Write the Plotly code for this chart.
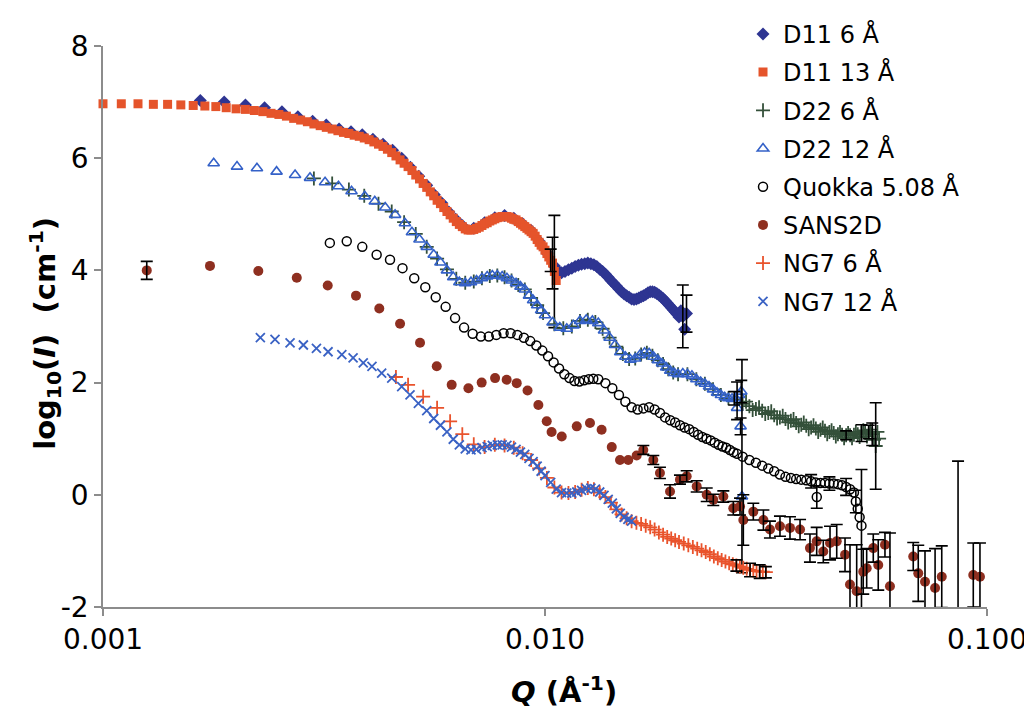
import plotly.graph_objects as go

# ---------------- data (Q in 1/Angstrom, values are log10(I)) ----------------
d11_6_q = [0.00166, 0.00188, 0.00210, 0.00232, 0.00254, 0.00276, 0.00298, 0.00320, 0.00342, 0.00364,
           0.00386, 0.00408, 0.00430, 0.00452, 0.00474, 0.00496, 0.00518, 0.00540, 0.00562, 0.00584,
           0.00606, 0.00628, 0.00650, 0.0069, 0.0073, 0.0077, 0.0081, 0.0085, 0.0089, 0.0093,
           0.0097, 0.0101, 0.0105, 0.0107, 0.0109, 0.0111, 0.0113, 0.0115, 0.0117, 0.0119,
           0.0121, 0.0123, 0.0125, 0.0127, 0.0129, 0.0131, 0.0133, 0.0135, 0.0137, 0.0139,
           0.0141, 0.0143, 0.0145, 0.0147, 0.0149, 0.0151, 0.0153, 0.0155, 0.0157, 0.0159,
           0.0161, 0.0163, 0.0165, 0.0167, 0.0169, 0.0171, 0.0173, 0.0175, 0.0177, 0.0179,
           0.0181, 0.0183, 0.0185, 0.0187, 0.0189, 0.0191, 0.0193, 0.0195, 0.0197, 0.0199,
           0.0201, 0.0203, 0.0205, 0.0207, 0.0209]
d11_6_v = [7.03, 7.00, 6.95, 6.90, 6.83, 6.74, 6.66, 6.59, 6.52, 6.47,
           6.42, 6.34, 6.25, 6.14, 6.00, 5.84, 5.68, 5.52, 5.35, 5.20,
           5.04, 4.91, 4.80, 4.75, 4.85, 4.94, 4.98, 4.93, 4.83, 4.71,
           4.52, 4.31, 4.08, 4.00, 3.96, 3.98, 4.01, 4.04, 4.07, 4.09,
           4.11, 4.12, 4.13, 4.12, 4.10, 4.07, 4.02, 3.98, 3.93, 3.88,
           3.82, 3.77, 3.72, 3.67, 3.62, 3.58, 3.55, 3.52, 3.49, 3.48,
           3.49, 3.51, 3.53, 3.55, 3.57, 3.60, 3.62, 3.62, 3.61, 3.59,
           3.56, 3.53, 3.50, 3.46, 3.42, 3.38, 3.34, 3.30, 3.26, 3.22,
           3.17, 3.28, 3.18, 2.95, 3.23]
d11_6_err_q = [0.0205, 0.0209]
d11_6_err_v = [3.18, 3.23]
d11_6_err_up = [0.56, 0.33]
d11_6_err_dn = [0.56, 0.33]

d11_13_q = [0.0010, 0.0011, 0.0012, 0.0013, 0.0014, 0.0015, 0.0016, 0.0017, 0.0018, 0.0019,
            0.0020, 0.0021, 0.0022, 0.0023, 0.0024, 0.0025, 0.0026, 0.0027, 0.0028, 0.0029,
            0.0030, 0.0031, 0.0032, 0.0033, 0.0034, 0.0035, 0.0036, 0.0037, 0.0038, 0.0039,
            0.0040, 0.0041, 0.0042, 0.0043, 0.0044, 0.0045, 0.0046, 0.0047, 0.0048, 0.0049,
            0.0050, 0.0051, 0.0052, 0.0053, 0.0054, 0.0055, 0.0056, 0.0057, 0.0058, 0.0059,
            0.0060, 0.0061, 0.0062, 0.0063, 0.0064, 0.0065, 0.0066, 0.0067, 0.0068, 0.0069,
            0.0070, 0.0071, 0.0072, 0.0073, 0.0074, 0.0075, 0.0076, 0.0077, 0.0078, 0.0079,
            0.0080, 0.0081, 0.0082, 0.0083, 0.0084, 0.0085, 0.0086, 0.0087, 0.0088, 0.0089,
            0.0090, 0.0091, 0.0092, 0.0093, 0.0094, 0.0095, 0.0096, 0.0097, 0.0098, 0.0099,
            0.0100, 0.0101, 0.0102, 0.0103, 0.0104, 0.0105, 0.0106]
d11_13_v = [6.97, 6.97, 6.97, 6.96, 6.96, 6.95, 6.94, 6.93, 6.92, 6.90,
            6.88, 6.87, 6.85, 6.83, 6.80, 6.78, 6.75, 6.71, 6.68, 6.65,
            6.61, 6.58, 6.55, 6.52, 6.49, 6.46, 6.44, 6.41, 6.39, 6.36,
            6.33, 6.29, 6.25, 6.21, 6.16, 6.10, 6.04, 5.97, 5.91, 5.85,
            5.78, 5.70, 5.63, 5.55, 5.48, 5.40, 5.33, 5.25, 5.19, 5.12,
            5.05, 4.99, 4.93, 4.87, 4.82, 4.78, 4.74, 4.72, 4.72, 4.73,
            4.75, 4.77, 4.80, 4.83, 4.85, 4.88, 4.90, 4.92, 4.94, 4.95,
            4.96, 4.96, 4.96, 4.95, 4.93, 4.91, 4.90, 4.87, 4.84, 4.81,
            4.78, 4.75, 4.72, 4.69, 4.66, 4.61, 4.55, 4.50, 4.45, 4.42,
            4.36, 4.30, 4.24, 4.18, 4.13, 3.98, 3.82]
d11_13_err_q = [0.0103, 0.0104, 0.0105]
d11_13_err_v = [4.18, 4.13, 3.98]
d11_13_err_up = [0.20, 0.46, 1.00]
d11_13_err_dn = [0.20, 0.46, 1.00]

d22_6_q = [0.0030, 0.0033, 0.0036, 0.0039, 0.0042, 0.0045, 0.0048, 0.0051, 0.0054, 0.0057,
           0.0060, 0.0063, 0.0066, 0.0069, 0.0072, 0.0075, 0.0078, 0.0081, 0.0084, 0.0087,
           0.0090, 0.0093, 0.0096, 0.0099, 0.0105, 0.0110, 0.0115, 0.0120, 0.0125, 0.0130,
           0.0135, 0.0140, 0.0145, 0.0150, 0.0155, 0.0160, 0.0165, 0.0170, 0.0175, 0.0180,
           0.0185, 0.0190, 0.0195, 0.0200, 0.0210, 0.0220, 0.0230, 0.0240, 0.0250, 0.0260,
           0.0270, 0.0280, 0.0290, 0.0300, 0.0310, 0.0320, 0.0330, 0.0340, 0.0350, 0.0360,
           0.0370, 0.0380, 0.0390, 0.0400, 0.0410, 0.0420, 0.0430, 0.0440, 0.0450, 0.0460,
           0.0470, 0.0480, 0.0490, 0.0500, 0.0510, 0.0520, 0.0530, 0.0540, 0.0550, 0.0560,
           0.0570,
           0.0285, 0.0295, 0.0305, 0.0315, 0.0325, 0.0335, 0.0345, 0.0355, 0.0365, 0.0375,
           0.0385, 0.0395, 0.0405, 0.0415, 0.0425, 0.0435, 0.0445, 0.0455, 0.0465, 0.0475,
           0.0485, 0.0495, 0.0505, 0.0515, 0.0525, 0.0535, 0.0545, 0.0555, 0.0565]
d22_6_v = [5.64, 5.55, 5.44, 5.33, 5.19, 5.05, 4.86, 4.65, 4.42, 4.21,
           4.02, 3.85, 3.78, 3.80, 3.86, 3.90, 3.91, 3.88, 3.82, 3.74,
           3.66, 3.51, 3.38, 3.24, 3.04, 2.97, 3.00, 3.10, 3.12, 3.08,
           2.96, 2.80, 2.64, 2.51, 2.42, 2.43, 2.50, 2.53, 2.48, 2.40,
           2.33, 2.24, 2.18, 2.15, 2.15, 2.06, 1.98, 1.88, 1.78, 1.72,
           1.70, 1.62, 1.58, 1.53, 1.50, 1.46, 1.42, 1.38, 1.35, 1.32,
           1.28, 1.25, 1.23, 1.20, 1.18, 1.16, 1.14, 1.12, 1.10, 1.08,
           1.07, 1.06, 1.06, 1.07, 1.08, 1.10, 1.10, 1.12, 1.08, 0.87,
           1.00,
           1.66, 1.51, 1.56, 1.44, 1.49, 1.36, 1.41, 1.29, 1.35, 1.22,
           1.29, 1.17, 1.24, 1.12, 1.20, 1.08, 1.15, 1.04, 1.12, 1.01,
           1.10, 1.01, 1.12, 1.03, 1.15, 1.04, 1.16, 0.98, 1.12]
d22_6_err_q = [0.0480, 0.0520, 0.0540, 0.0550, 0.0560]
d22_6_err_v = [1.06, 1.10, 1.12, 1.08, 0.87]
d22_6_err_up = [0.08, 0.15, 0.12, 0.20, 0.77]
d22_6_err_dn = [0.08, 0.15, 0.12, 0.20, 0.77]

d22_12_q = [0.00178, 0.00201, 0.00223, 0.00247, 0.00272, 0.00294, 0.00318, 0.00341, 0.00365, 0.00391,
            0.00412, 0.00435, 0.00458, 0.00482,
            0.0050, 0.0052, 0.0054, 0.0056, 0.0058, 0.0060, 0.0062, 0.0064, 0.0066, 0.0068,
            0.0070, 0.0072, 0.0074, 0.0076, 0.0078, 0.0080, 0.0082, 0.0084, 0.0086, 0.0088,
            0.0090, 0.0092, 0.0094, 0.0096, 0.0098, 0.0100,
            0.0104, 0.0108, 0.0112, 0.0116, 0.0120, 0.0124, 0.0128, 0.0132, 0.0136, 0.0140,
            0.0144, 0.0148, 0.0152, 0.0156, 0.0160, 0.0164, 0.0168, 0.0172, 0.0176, 0.0180,
            0.0184, 0.0188, 0.0192, 0.0196, 0.0200,
            0.0205, 0.0210, 0.0215, 0.0220, 0.0225, 0.0230, 0.0235, 0.0240, 0.0245, 0.0250,
            0.0255, 0.0260, 0.0265, 0.0270, 0.0275,
            0.0272, 0.0278, 0.0277, 0.0279]
d22_12_v = [5.91, 5.85, 5.82, 5.76, 5.70, 5.65, 5.57, 5.50, 5.41, 5.32,
            5.23, 5.12, 4.99, 4.84,
            4.68, 4.55, 4.42, 4.28, 4.14, 4.00, 3.88, 3.79, 3.77, 3.79,
            3.82, 3.86, 3.89, 3.91, 3.91, 3.89, 3.86, 3.82, 3.77, 3.71,
            3.66, 3.55, 3.47, 3.38, 3.29, 3.20,
            3.07, 2.98, 2.96, 3.02, 3.10, 3.12, 3.10, 3.06, 2.93, 2.80,
            2.67, 2.54, 2.46, 2.41, 2.43, 2.49, 2.53, 2.52, 2.46, 2.40,
            2.34, 2.27, 2.21, 2.17, 2.15,
            2.16, 2.15, 2.12, 2.06, 2.01, 1.98, 1.93, 1.88, 1.82, 1.78,
            1.74, 1.72, 1.71, 1.72, 1.78,
            1.55, 1.84, 1.22, -0.03]
d22_12_err_q = [0.0268, 0.0272, 0.0277, 0.0278, 0.0279]
d22_12_err_v = [1.72, 1.55, 1.22, 1.84, -0.03]
d22_12_err_up = [0.12, 0.46, 0.15, 0.20, 2.44]
d22_12_err_dn = [0.12, 0.21, 0.15, 0.20, 1.36]

quokka_q = [0.00326, 0.00356, 0.00386, 0.00416, 0.00446, 0.00476, 0.00506, 0.00536, 0.00566, 0.00596,
            0.00626, 0.00656, 0.00686, 0.00716, 0.00746, 0.00776, 0.00806, 0.00836, 0.00866, 0.00896,
            0.00926, 0.00956, 0.00986, 0.01016, 0.01046, 0.01076, 0.01106, 0.01136, 0.01166, 0.01196,
            0.01226, 0.01256, 0.01286, 0.0132, 0.0137, 0.0142, 0.0147, 0.0152, 0.0157, 0.0162,
            0.0167, 0.0172, 0.0177, 0.0182, 0.0187, 0.0192, 0.0197, 0.0202, 0.0207, 0.0212,
            0.0217, 0.0222, 0.0227, 0.0232, 0.0237, 0.0242, 0.0247, 0.0252, 0.0257, 0.0262,
            0.0267, 0.0272, 0.0280, 0.0290, 0.0300, 0.0310, 0.0320, 0.0330, 0.0340, 0.0350,
            0.0360, 0.0370, 0.0380, 0.0390, 0.0400, 0.0410, 0.0420, 0.0430, 0.0440, 0.0450,
            0.0460, 0.0470, 0.0480, 0.0490, 0.0500, 0.0505, 0.0510, 0.0515, 0.0520, 0.0412]
quokka_v = [4.49, 4.52, 4.42, 4.28, 4.19, 4.04, 3.86, 3.70, 3.52, 3.35,
            3.15, 2.98, 2.87, 2.82, 2.82, 2.85, 2.88, 2.88, 2.85, 2.80,
            2.74, 2.66, 2.57, 2.47, 2.36, 2.25, 2.15, 2.08, 2.03, 2.02,
            2.04, 2.06, 2.07, 2.06, 1.99, 1.90, 1.78, 1.66, 1.56, 1.52,
            1.54, 1.56, 1.52, 1.46, 1.38, 1.33, 1.29, 1.24, 1.20, 1.17,
            1.12, 1.07, 1.03, 1.00, 0.97, 0.93, 0.89, 0.86, 0.84, 0.80,
            0.76, 0.73, 0.68, 0.62, 0.57, 0.52, 0.47, 0.42, 0.36, 0.32,
            0.30, 0.28, 0.27, 0.26, 0.24, 0.22, 0.21, 0.21, 0.20, 0.20,
            0.19, 0.17, 0.14, 0.10, 0.04, -0.12, -0.25, -0.40, -0.55, -0.04]
quokka_err_q = [0.0400, 0.0412, 0.0440, 0.0480, 0.0505, 0.0520]
quokka_err_v = [0.24, -0.04, 0.20, 0.14, -0.12, -0.55]
quokka_err_up = [0.12, 0.20, 0.12, 0.15, 0.20, 1.00]
quokka_err_dn = [0.12, 0.20, 0.12, 0.15, 0.20, 1.50]

sans2d_q = [0.001256, 0.001746, 0.002246, 0.002744, 0.003224, 0.003736, 0.004218, 0.004700, 0.005215, 0.005690,
            0.006150, 0.006710, 0.007190, 0.007710, 0.008190, 0.008630, 0.009130, 0.009660, 0.010090, 0.010350,
            0.010910, 0.011800, 0.012640, 0.013430, 0.014160, 0.014780, 0.015430, 0.016120, 0.016690, 0.017580,
            0.018200, 0.019180, 0.020200, 0.020920, 0.022040, 0.023220, 0.024030, 0.025320, 0.026670, 0.027620,
            0.028100, 0.029600, 0.031200, 0.032280, 0.034010, 0.035830, 0.037760, 0.039760, 0.041180, 0.042620,
            0.044140, 0.045710, 0.047730, 0.048980, 0.050720, 0.052480, 0.053430, 0.055300, 0.056750, 0.058770,
            0.060320, 0.068100, 0.069900, 0.072400, 0.076300, 0.079000, 0.086000, 0.093100, 0.096400]
sans2d_v = [4.00, 4.08, 3.99, 3.87, 3.73, 3.55, 3.32, 3.05, 2.71, 2.29,
            1.96, 1.90, 2.00, 2.08, 2.05, 1.99, 1.86, 1.60, 1.31, 1.12,
            1.04, 1.22, 1.28, 1.16, 0.85, 0.62, 0.62, 0.70, 0.80, 0.62,
            0.39, 0.06, 0.27, 0.33, 0.15, 0.00, -0.09, -0.03, -0.24, -0.21,
            -0.45, -0.30, -0.45, -0.62, -0.56, -0.59, -0.62, -0.95, -0.83, -1.01,
            -0.86, -0.83, -1.07, -1.60, -1.72, -1.37, -1.31, -0.95, -1.25, -0.89,
            -1.63, -1.10, -1.40, -1.55, -1.66, -1.46, -2.30, -1.43, -1.46]
# error bars of SANS2D (points that show one)
sans2d_err_q = [0.001256, 0.016690, 0.017580, 0.018200, 0.019180, 0.020200, 0.020920, 0.022040, 0.023220,
                0.024030, 0.025320, 0.026670, 0.027620, 0.028100, 0.029600, 0.031200, 0.032280, 0.034010,
                0.035830, 0.037760, 0.039760, 0.041180, 0.042620, 0.044140, 0.045710, 0.047730, 0.048980,
                0.050720, 0.052480, 0.053430, 0.055300, 0.056750, 0.058770, 0.060320, 0.068100, 0.069900,
                0.072400, 0.076300, 0.079000, 0.086000, 0.093100, 0.096400]
sans2d_err_v = [4.00, 0.80, 0.62, 0.39, 0.06, 0.27, 0.33, 0.15, 0.00,
                -0.09, -0.03, -0.24, -0.21, -0.45, -0.30, -0.45, -0.62, -0.56,
                -0.59, -0.62, -0.95, -0.83, -1.01, -0.86, -0.83, -1.07, -1.60,
                -1.72, -1.37, -1.31, -0.95, -1.25, -0.89, -1.63, -1.10, -1.40,
                -1.55, -1.66, -1.46, -2.30, -1.43, -1.46]
sans2d_err = [0.16, 0.08, 0.08, 0.10, 0.12, 0.08, 0.10, 0.10, 0.12,
              0.10, 0.10, 0.12, 0.15, 0.45, 0.15, 0.18, 0.15, 0.18,
              0.20, 0.18, 0.25, 0.25, 0.20, 0.30, 0.30, 0.30, 0.71,
              0.83, 0.40, 0.35, 0.25, 0.45, 0.22, 0.95, 0.25, 0.50,
              0.55, 0.70, 0.55, 2.90, 0.57, 0.60]

ng7_6_q = [0.0046, 0.0049, 0.0053, 0.0057, 0.0061, 0.0065, 0.0069, 0.0073, 0.0077, 0.0081,
           0.0085, 0.0089, 0.0093, 0.0097, 0.0101, 0.0105, 0.0109, 0.0113, 0.0117, 0.0121,
           0.0125, 0.0129, 0.0133, 0.0137, 0.0141, 0.0145, 0.0149, 0.0153, 0.0157, 0.0161,
           0.0165, 0.0169, 0.0173, 0.0177, 0.0181, 0.0185, 0.0189, 0.0193, 0.0197, 0.0201,
           0.0206, 0.0211, 0.0216, 0.0221, 0.0226, 0.0231, 0.0236, 0.0241, 0.0246, 0.0251,
           0.0256, 0.0261, 0.0266, 0.0271, 0.0276, 0.0281, 0.0286, 0.0291, 0.0296, 0.0301,
           0.0306, 0.0311, 0.0316]
ng7_6_v = [2.10, 1.96, 1.75, 1.55, 1.31, 1.08, 0.90, 0.85, 0.89, 0.88,
           0.84, 0.74, 0.62, 0.47, 0.30, 0.13, 0.04, 0.03, 0.05, 0.09,
           0.12, 0.10, 0.04, -0.04, -0.14, -0.26, -0.35, -0.42, -0.47, -0.50,
           -0.52, -0.55, -0.58, -0.62, -0.67, -0.71, -0.75, -0.78, -0.81, -0.84,
           -0.87, -0.90, -0.93, -0.96, -0.99, -1.02, -1.06, -1.10, -1.13, -1.16,
           -1.19, -1.22, -1.24, -1.26, -1.28, -1.30, -1.32, -1.34, -1.35, -1.36,
           -1.37, -1.37, -1.38]
ng7_6_err_q = [0.0271, 0.0291, 0.0306, 0.0316]
ng7_6_err_v = [-1.26, -1.34, -1.37, -1.38]
ng7_6_err_up = [0.10, 0.12, 0.12, 0.10]
ng7_6_err_dn = [0.10, 0.12, 0.12, 0.10]

ng7_12_q = [0.00227, 0.00245, 0.00265, 0.00284, 0.00304, 0.00323, 0.00347, 0.00368, 0.00388, 0.00406,
            0.00427, 0.00450, 0.00474, 0.00495, 0.00517,
            0.0054, 0.0056, 0.0058, 0.0060, 0.0062, 0.0064, 0.0066, 0.0068, 0.0070, 0.0072,
            0.0074, 0.0076, 0.0078, 0.0080, 0.0082, 0.0084, 0.0086, 0.0088, 0.0090, 0.0092,
            0.0094, 0.0096, 0.0098, 0.0100,
            0.0103, 0.0106, 0.0109, 0.0112, 0.0115, 0.0118, 0.0121, 0.0124, 0.0127, 0.0130,
            0.0133, 0.0136, 0.0139, 0.0142, 0.0145, 0.0148, 0.0151, 0.0154, 0.0157]
ng7_12_v = [2.80, 2.77, 2.71, 2.67, 2.61, 2.55, 2.50, 2.44, 2.35, 2.29,
            2.17, 2.08, 1.93, 1.78, 1.63,
            1.50, 1.36, 1.24, 1.12, 0.99, 0.89, 0.82, 0.80, 0.81, 0.84,
            0.86, 0.88, 0.89, 0.89, 0.88, 0.85, 0.81, 0.76, 0.72, 0.65,
            0.59, 0.51, 0.42, 0.34,
            0.22, 0.10, 0.04, 0.03, 0.03, 0.05, 0.08, 0.11, 0.12, 0.10,
            0.05, -0.01, -0.08, -0.15, -0.25, -0.33, -0.40, -0.44, -0.47]

x_tick_vals = [0.001, 0.01, 0.1]
x_tick_text = ["0.001", "0.010", "0.100"]
y_tick_vals = [-2, 0, 2, 4, 6, 8]
y_tick_text = ["-2", "0", "2", "4", "6", "8"]

# ---------------- figure ----------------
FONT = "DejaVu Sans"
fig = go.Figure()


def add_series(name, q, v, symbol, color, size, group, line_w=0, clip=True):
    fig.add_trace(go.Scatter(
        x=q, y=v, mode="markers", name=name, legendgroup=group,
        marker=dict(symbol=symbol, color=color, size=size,
                    line=dict(color=color, width=line_w)),
        cliponaxis=clip))


def add_errors(group, q, v, up, dn):
    fig.add_trace(go.Scatter(
        x=q, y=v, mode="markers", legendgroup=group, showlegend=False,
        hoverinfo="skip",
        marker=dict(size=1, color="rgba(0,0,0,0)"),
        error_y=dict(type="data", symmetric=False, array=up, arrayminus=dn,
                     color="black", thickness=1.6, width=6)))


add_series("D11 6 Å", d11_6_q, d11_6_v, "diamond", "#2E3592", 10, "g1")
add_errors("g1", d11_6_err_q, d11_6_err_v, d11_6_err_up, d11_6_err_dn)

add_series("D11 13 Å", d11_13_q, d11_13_v, "square", "#E5542B", 9, "g2", clip=False)
add_errors("g2", d11_13_err_q, d11_13_err_v, d11_13_err_up, d11_13_err_dn)

add_series("D22 6 Å", d22_6_q, d22_6_v, "cross-thin", "#34503A", 10, "g3", line_w=1.8)
add_errors("g3", d22_6_err_q, d22_6_err_v, d22_6_err_up, d22_6_err_dn)

add_series("D22 12 Å", d22_12_q, d22_12_v, "triangle-up-open", "#3461C8", 10, "g4", line_w=1.6)
add_errors("g4", d22_12_err_q, d22_12_err_v, d22_12_err_up, d22_12_err_dn)

add_series("Quokka 5.08 Å", quokka_q, quokka_v, "circle-open", "#000000", 9, "g5", line_w=1.5)
add_errors("g5", quokka_err_q, quokka_err_v, quokka_err_up, quokka_err_dn)

add_series("SANS2D", sans2d_q, sans2d_v, "circle", "#8E2F20", 10, "g6")
add_errors("g6", sans2d_err_q, sans2d_err_v, sans2d_err, sans2d_err)

add_series("NG7 6 Å", ng7_6_q, ng7_6_v, "cross-thin", "#E9532C", 10, "g7", line_w=1.8)
add_errors("g7", ng7_6_err_q, ng7_6_err_v, ng7_6_err_up, ng7_6_err_dn)

add_series("NG7 12 Å", ng7_12_q, ng7_12_v, "x-thin", "#3A62C4", 9, "g8", line_w=1.8)

axis_col = "#8c8c8c"
fig.update_layout(
    width=1024, height=715,
    margin=dict(l=103, r=37, t=46, b=108),
    paper_bgcolor="white", plot_bgcolor="white",
    font=dict(family=FONT, size=24, color="black"),
    showlegend=True,
    legend=dict(x=0.724, y=1.061, xanchor="left", yanchor="top",
                font=dict(family=FONT, size=24, color="black"),
                tracegroupgap=4, itemsizing="trace",
                bgcolor="rgba(0,0,0,0)", traceorder="grouped"),
    xaxis=dict(type="log", range=[-3, -1], tickvals=x_tick_vals, ticktext=x_tick_text,
               ticks="outside", ticklen=7, tickwidth=1.5, tickcolor=axis_col,
               showline=True, linecolor=axis_col, linewidth=1.5,
               showgrid=False, zeroline=False, automargin=False,
               ticklabeloverflow="allow",
               tickfont=dict(family=FONT, size=28, color="black")),
    yaxis=dict(range=[-2, 8], tickvals=y_tick_vals, ticktext=y_tick_text,
               ticks="outside", ticklen=7, tickwidth=1.5, tickcolor=axis_col,
               showline=True, linecolor=axis_col, linewidth=1.5,
               showgrid=False, zeroline=False, automargin=False,
               ticklabeloverflow="allow",
               tickfont=dict(family=FONT, size=28, color="black")),
)

fig.add_annotation(text="<b><i>Q</i> (Å<sup>-1</sup>)</b>", xref="paper", yref="paper",
                   x=0.521, y=-0.148, xanchor="center", yanchor="middle", showarrow=False,
                   font=dict(family=FONT, size=29, color="black"))
fig.add_annotation(text="<b>log<sub>10</sub>(<i>I</i>)  (cm<sup>-1</sup>)</b>", xref="paper", yref="paper",
                   x=-0.0656, y=0.487, xanchor="center", yanchor="middle", showarrow=False,
                   textangle=-90, font=dict(family=FONT, size=29, color="black"))

fig.write_html("out.html")
